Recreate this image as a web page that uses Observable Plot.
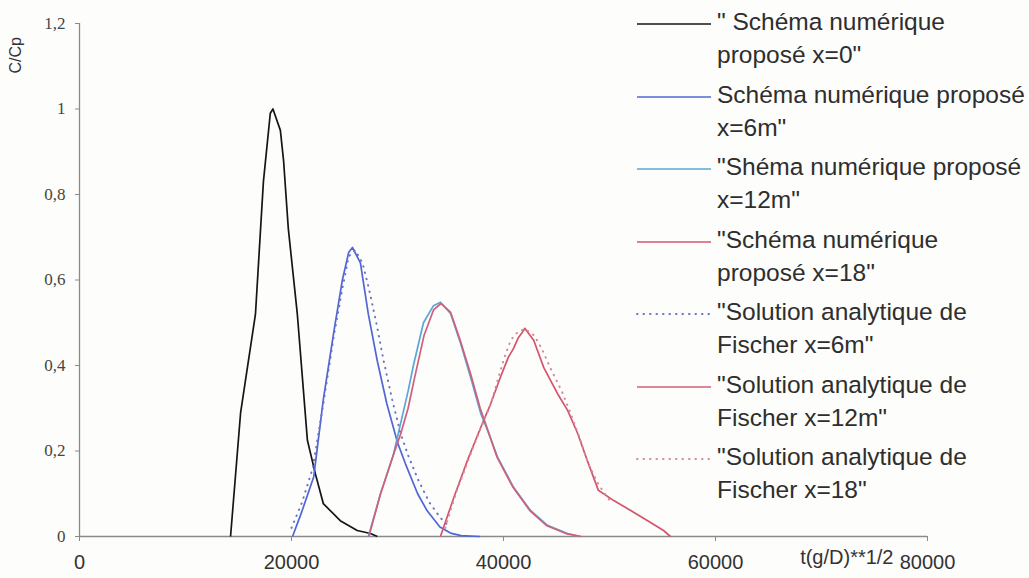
<!DOCTYPE html>
<html>
<head>
<meta charset="utf-8">
<script src="https://cdn.jsdelivr.net/npm/d3@7"></script>
<script src="https://cdn.jsdelivr.net/npm/@observablehq/plot@0.6"></script>
<style>
  html, body { margin: 0; padding: 0; background: #fdfdfb; }
  #wrap { position: relative; width: 1029px; height: 578px; overflow: hidden; }
  #legend { position: absolute; left: 636px; top: 5px; font-family: "Liberation Sans", Arial, sans-serif; font-size: 24.5px; color: #2e2e2e; }
  .entry { position: relative; height: 72.5px; }
  .entry svg { position: absolute; left: 0; top: 14px; }
  .entry .txt { position: absolute; left: 81px; top: 0; line-height: 33px; white-space: nowrap; }
</style>
</head>
<body>
<div id="wrap"><div id="chart"></div><div id="legend"></div></div>
<script>
// ---- data ----
const xTicks = [0, 20000, 40000, 60000, 80000];
const yTicks = [0, 0.2, 0.4, 0.6, 0.8, 1, 1.2];
const xAxisLabel = "t(g/D)**1/2";
const yAxisLabel = "C/Cp";

// numerical scheme x=0
const t0 = [14250, 15200, 16600, 17350, 18000, 18250, 18950, 19250, 19700, 20550, 21050, 21500, 22250, 23000, 24600, 26200, 27450, 28100];
const c0 = [0, 0.29, 0.52, 0.83, 0.99, 1.0, 0.95, 0.88, 0.72, 0.52, 0.365, 0.225, 0.147, 0.077, 0.037, 0.014, 0.007, 0];

// numerical scheme x=6m
const t6 = [20100, 21000, 22100, 23000, 24000, 24800, 25400, 25750, 26500, 27250, 28100, 29000, 30000, 30750, 31900, 32800, 34000, 35000, 36000, 37800];
const c6 = [0, 0.06, 0.14, 0.32, 0.48, 0.60, 0.665, 0.676, 0.64, 0.52, 0.41, 0.31, 0.22, 0.17, 0.10, 0.06, 0.022, 0.008, 0.002, 0];

// numerical scheme x=12m
const t12 = [27250, 28400, 29600, 30250, 31000, 31500, 32450, 33400, 34050, 35000, 35950, 36900, 37850, 38500, 39450, 40950, 42550, 44150, 46050, 47250];
const c12 = [0, 0.10, 0.19, 0.26, 0.34, 0.40, 0.50, 0.54, 0.548, 0.522, 0.452, 0.372, 0.288, 0.248, 0.185, 0.115, 0.061, 0.026, 0.007, 0];

// numerical scheme x=18
const t18 = [34050, 35300, 36600, 37850, 38800, 39700, 40450, 40950, 41400, 41900, 42000, 42850, 43800, 45100, 46050, 47000, 47900, 48950, 50400, 52000, 53600, 55100, 55750];
const c18 = [0, 0.09, 0.178, 0.255, 0.311, 0.372, 0.419, 0.44, 0.465, 0.482, 0.487, 0.459, 0.395, 0.334, 0.295, 0.241, 0.178, 0.108, 0.084, 0.061, 0.037, 0.014, 0];

// Fischer analytical solution x=6m (dotted)
const ta6 = [20000, 21000, 22000, 23000, 24000, 24800, 25400, 26000, 26700, 27300, 28000, 28700, 29500, 30300, 31000, 32000, 33000, 34000, 35000];
const ca6 = [0.02, 0.08, 0.16, 0.31, 0.47, 0.58, 0.655, 0.67, 0.64, 0.58, 0.50, 0.41, 0.32, 0.24, 0.19, 0.13, 0.08, 0.045, 0.02];

// Fischer analytical solution x=12m (solid)
const ta12 = [27300, 28400, 29600, 30300, 31000, 31600, 32500, 33400, 34100, 35000, 35900, 36900, 37800, 38500, 39400, 40900, 42500, 44100, 46000, 47300];
const ca12 = [0, 0.10, 0.19, 0.24, 0.30, 0.37, 0.47, 0.53, 0.545, 0.525, 0.46, 0.38, 0.30, 0.25, 0.185, 0.115, 0.06, 0.025, 0.006, 0];

// Fischer analytical solution x=18 (dotted)
const ta18 = [34500, 35500, 36700, 37800, 38800, 39500, 40100, 40700, 41400, 42100, 42900, 43600, 44500, 45500, 46300, 47200, 48000, 49000, 50000];
const ca18 = [0.02, 0.10, 0.18, 0.25, 0.31, 0.37, 0.42, 0.46, 0.48, 0.485, 0.47, 0.44, 0.39, 0.34, 0.29, 0.23, 0.17, 0.12, 0.085];

const seriesNames = [
  "\" Schéma numérique\nproposé x=0\"",
  "Schéma numérique proposé\nx=6m\"",
  "\"Shéma numérique proposé\nx=12m\"",
  "\"Schéma numérique\nproposé x=18\"",
  "\"Solution analytique de\nFischer x=6m\"",
  "\"Solution analytique de\nFischer x=12m\"",
  "\"Solution analytique de\nFischer x=18\""
];
const seriesColors = ["#151515", "#5166d6", "#5aa6d6", "#d4546c", "#6a74c0", "#d0607a", "#d58a9a"];
const seriesDotted = [false, false, false, false, true, false, true];
const seriesT = [t0, t6, t12, t18, ta6, ta12, ta18];
const seriesC = [c0, c6, c12, c18, ca6, ca12, ca18];

// ---- build rows ----
const rows = [];
seriesT.forEach((ts, i) => ts.forEach((t, j) => rows.push({series: i, t, c: seriesC[i][j]})));

const marks = [
  Plot.ruleY([0], {stroke: "#8a8a8a", strokeWidth: 1.3}),
  Plot.ruleX([0], {stroke: "#8a8a8a", strokeWidth: 1.3}),
  Plot.axisY({ticks: yTicks, tickSize: 4, tickPadding: 10, tickFormat: d => String(d).replace(".", ","),
    fontFamily: "Liberation Serif, Times New Roman, serif", fontSize: 17, fill: "#444", stroke: "#8a8a8a", label: null}),
  Plot.axisX({ticks: xTicks, tickSize: 5, tickPadding: 13, tickFormat: d => String(d),
    fontFamily: "Liberation Sans, Arial, sans-serif", fontSize: 20, fill: "#333", stroke: "#8a8a8a", label: null}),
  Plot.text([xAxisLabel], {text: d => d, frameAnchor: "bottom-right", dx: -34, dy: 27, textAnchor: "end",
    fontFamily: "Liberation Sans, Arial, sans-serif", fontSize: 20, fill: "#333"}),
  Plot.text([yAxisLabel], {text: d => d, frameAnchor: "top-left", rotate: -90, dx: -70, dy: 50,
    fontFamily: "Liberation Sans, Arial, sans-serif", fontSize: 16, fill: "#333"})
];
seriesT.forEach((ts, i) => {
  const data = rows.filter(r => r.series === i);
  marks.push(Plot.line(data, {x: "t", y: "c", stroke: seriesColors[i],
    strokeWidth: seriesDotted[i] ? 2 : 1.7,
    strokeDasharray: seriesDotted[i] ? "0.5,6" : null,
    strokeLinecap: seriesDotted[i] ? "round" : "butt",
    curve: "linear"}));
});

const chart = Plot.plot({
  width: 1029, height: 578,
  marginLeft: 79, marginRight: 102, marginTop: 23, marginBottom: 42,
  style: {background: "transparent", overflow: "visible"},
  x: {domain: [0, 80000]},
  y: {domain: [0, 1.2]},
  marks
});
document.getElementById("chart").appendChild(chart);

// ---- legend ----
const legend = document.getElementById("legend");
seriesNames.forEach((name, i) => {
  const e = document.createElement("div");
  e.className = "entry";
  const dash = seriesDotted[i] ? 'stroke-dasharray="0.5,6" stroke-linecap="round" stroke-width="2"' : 'stroke-width="1.7"';
  e.innerHTML = `<svg width="76" height="10"><line x1="1" x2="75" y1="5" y2="5" stroke="${seriesColors[i]}" ${dash}/></svg>` +
    `<div class="txt">${name.split("\n").join("<br>")}</div>`;
  legend.appendChild(e);
});
</script>
</body>
</html>
